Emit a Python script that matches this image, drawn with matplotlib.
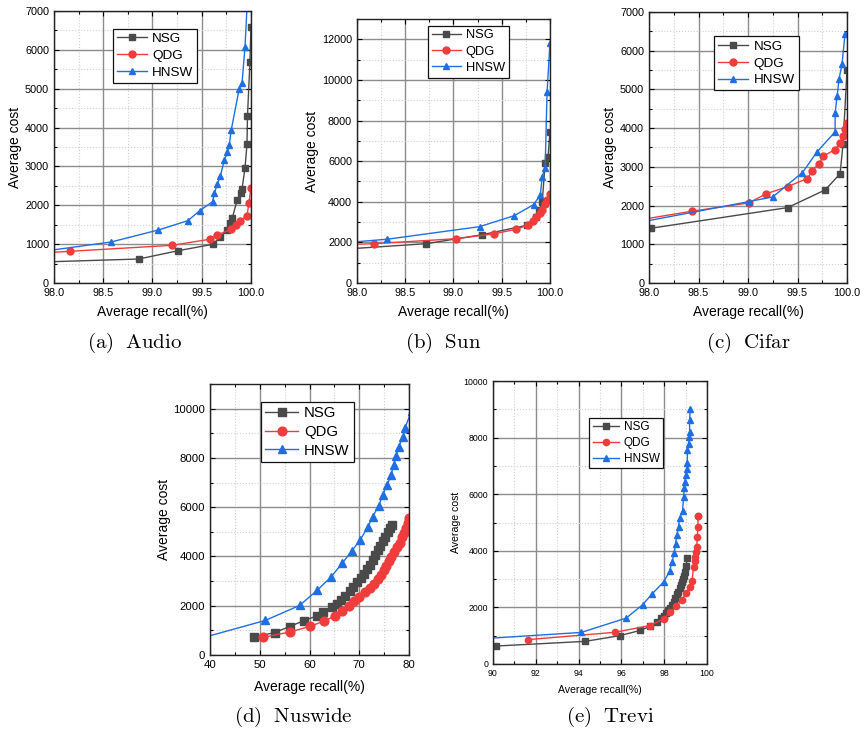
import matplotlib
matplotlib.use("Agg")
import matplotlib.pyplot as plt
from matplotlib.ticker import MultipleLocator, FormatStrFormatter

plt.rcParams['font.family'] = ['Liberation Sans', 'DejaVu Sans']
plt.rcParams['mathtext.fontset'] = 'cm'

series_names = ["NSG", "QDG", "HNSW"]
colors = {"NSG": "#4a4a4a", "QDG": "#f03c3c", "HNSW": "#1f6fe3"}
markers = {"NSG": "s", "QDG": "o", "HNSW": "^"}

# ---- (a) Audio ----
audio_nsg_x = [97.5, 98.86, 99.26, 99.61, 99.69, 99.76, 99.79, 99.81, 99.86, 99.90, 99.91, 99.94, 99.96, 99.965, 99.99, 100.0]
audio_nsg_y = [510, 617, 830, 995, 1184, 1364, 1552, 1665, 2136, 2308, 2427, 2967, 3577, 4297, 5695, 6598]
audio_qdg_x = [97.5, 98.16, 99.20, 99.58, 99.66, 99.80, 99.85, 99.89, 99.96, 99.98, 100.0]
audio_qdg_y = [715, 815, 970, 1124, 1243, 1381, 1484, 1604, 1733, 2059, 2440]
audio_hnsw_x = [97.5, 98.58, 99.06, 99.36, 99.48, 99.61, 99.63, 99.66, 99.69, 99.73, 99.76, 99.78, 99.80, 99.88, 99.91, 99.94, 99.97]
audio_hnsw_y = [680, 1055, 1364, 1604, 1861, 2092, 2324, 2548, 2761, 3165, 3363, 3551, 3937, 4985, 5157, 6081, 7600]

# ---- (b) Sun ----
sun_nsg_x = [97.5, 98.72, 99.30, 99.76, 99.86, 99.89, 99.92, 99.95, 99.98, 100.0]
sun_nsg_y = [1550, 1936, 2380, 2840, 3250, 3600, 4000, 5900, 6200, 7450]
sun_qdg_x = [97.5, 98.18, 99.03, 99.42, 99.65, 99.77, 99.82, 99.86, 99.90, 99.92, 99.95, 99.97, 100.0]
sun_qdg_y = [1820, 1936, 2182, 2420, 2645, 2842, 3069, 3240, 3460, 3600, 3890, 4090, 4400]
sun_hnsw_x = [97.5, 98.31, 99.27, 99.63, 99.83, 99.90, 99.92, 99.95, 99.97, 100.0]
sun_hnsw_y = [1840, 2153, 2773, 3315, 3857, 4335, 5236, 5680, 9394, 11837]

# ---- (c) Cifar ----
cifar_nsg_x = [98.02, 99.40, 99.78, 99.93, 99.96, 100.0]
cifar_nsg_y = [1414, 1947, 2405, 2820, 3594, 5508]
cifar_qdg_x = [97.5, 98.43, 99.01, 99.18, 99.40, 99.60, 99.65, 99.72, 99.76, 99.88, 99.93, 99.96, 99.98, 100.0]
cifar_qdg_y = [1460, 1853, 2069, 2301, 2491, 2698, 2905, 3086, 3276, 3448, 3620, 3793, 3965, 4120]
cifar_hnsw_x = [97.5, 99.01, 99.25, 99.55, 99.70, 99.88, 99.88, 99.90, 99.92, 99.95, 99.98]
cifar_hnsw_y = [1370, 2103, 2224, 2853, 3396, 3905, 4388, 4828, 5275, 5663, 6431]

# ---- (d) Nuswide ----
nus_nsg_x = [48.9, 53.0, 56.0, 58.8, 61.5, 62.8, 64.5, 65.5, 66.3, 67.2, 68.2, 68.8, 69.6, 70.3, 71.0, 71.6, 72.2, 72.7, 73.2, 73.7, 74.2, 74.7, 75.2, 75.7, 76.1, 76.6]
nus_nsg_y = [730, 912, 1155, 1390, 1590, 1760, 1946, 2080, 2243, 2405, 2595, 2757, 2972, 3135, 3297, 3487, 3662, 3852, 4039, 4242, 4432, 4635, 4809, 5012, 5174, 5280]
nus_qdg_x = [50.7, 56.0, 60.1, 62.9, 65.2, 66.5, 68.0, 69.0, 70.0, 71.2, 72.2, 73.0, 73.7, 74.3, 74.9, 75.4, 75.9, 76.4, 77.0, 77.6, 78.1, 78.6, 79.0, 79.4, 79.7, 79.9]
nus_qdg_y = [714, 933, 1160, 1379, 1594, 1796, 1971, 2174, 2352, 2538, 2717, 2891, 3082, 3256, 3431, 3621, 3796, 3998, 4177, 4380, 4566, 4785, 4971, 5174, 5377, 5556]
nus_hnsw_x = [38.0, 51.1, 58.0, 61.5, 64.3, 66.6, 68.5, 70.2, 71.7, 72.7, 73.9, 74.7, 75.6, 76.4, 76.9, 77.4, 77.9, 78.8, 79.2, 80.5]
nus_hnsw_y = [670, 1403, 2011, 2620, 3163, 3731, 4229, 4675, 5190, 5620, 6054, 6500, 6906, 7311, 7717, 8082, 8459, 8840, 9230, 9900]

# ---- (e) Trevi ----
trevi_nsg_x = [89.0, 90.15, 94.31, 95.92, 96.88, 97.35, 97.65, 97.85, 97.97, 98.1, 98.2, 98.29, 98.37, 98.44, 98.52, 98.6, 98.65, 98.72, 98.78, 98.83, 98.9, 98.95, 98.99, 99.03, 99.07]
trevi_nsg_y = [590, 635, 800, 1000, 1186, 1330, 1500, 1620, 1700, 1800, 1900, 1990, 2090, 2190, 2330, 2470, 2560, 2680, 2780, 2880, 3000, 3120, 3250, 3450, 3760]
trevi_qdg_x = [91.62, 95.69, 97.35, 98.0, 98.25, 98.57, 98.83, 99.03, 99.19, 99.30, 99.38, 99.42, 99.45, 99.48, 99.52, 99.55, 99.58, 99.58, 99.6]
trevi_qdg_y = [860, 1120, 1360, 1600, 1822, 2033, 2270, 2506, 2718, 2940, 3445, 3622, 3798, 3953, 4151, 4504, 4857, 5245, 5245]
trevi_hnsw_x = [88.0, 94.13, 96.23, 96.99, 97.44, 97.97, 98.25, 98.36, 98.47, 98.53, 98.6, 98.67, 98.72, 98.86, 98.91, 98.94, 98.97, 99.02, 99.05, 99.08, 99.09, 99.14, 99.16, 99.19, 99.19, 99.22]
trevi_hnsw_y = [820, 1116, 1624, 2093, 2481, 2894, 3270, 3588, 3918, 4246, 4564, 4857, 5153, 5422, 5916, 6212, 6446, 6682, 6894, 7116, 7564, 7776, 8013, 8210, 8623, 9001]

captions = ["(a)\\ \\ Audio", "(b)\\ \\ Sun", "(c)\\ \\ Cifar", "(d)\\ \\ Nuswide", "(e)\\ \\ Trevi"]

panels = [
    dict(data={"NSG": (audio_nsg_x, audio_nsg_y), "QDG": (audio_qdg_x, audio_qdg_y), "HNSW": (audio_hnsw_x, audio_hnsw_y)},
         rect=[0.0624, 0.6134, 0.2277, 0.3716], xlim=(98, 100), ylim=(0, 7000), xmaj=0.5, xmin=0.25, ymaj=1000, ymin=500,
         xfmt="%.1f", leg=(0.30, 0.935), tick=7.8, lab=10, legfs=9.7, ms=5, cap=(135, 343), xpad=5),
    dict(data={"NSG": (sun_nsg_x, sun_nsg_y), "QDG": (sun_qdg_x, sun_qdg_y), "HNSW": (sun_hnsw_x, sun_hnsw_y)},
         rect=[0.4127, 0.6134, 0.2231, 0.3607], xlim=(98, 100), ylim=(0, 13000), xmaj=0.5, xmin=0.25, ymaj=2000, ymin=1000,
         xfmt="%.1f", leg=(0.37, 0.975), tick=7.8, lab=10, legfs=9.3, ms=5, cap=(443, 343), xpad=5),
    dict(data={"NSG": (cifar_nsg_x, cifar_nsg_y), "QDG": (cifar_qdg_x, cifar_qdg_y), "HNSW": (cifar_hnsw_x, cifar_hnsw_y)},
         rect=[0.7503, 0.6134, 0.2289, 0.3702], xlim=(98, 100), ylim=(0, 7000), xmaj=0.5, xmin=0.25, ymaj=1000, ymin=500,
         xfmt="%.1f", leg=(0.33, 0.91), tick=7.8, lab=10, legfs=9.7, ms=5, cap=(748, 343), xpad=5),
    dict(data={"NSG": (nus_nsg_x, nus_nsg_y), "QDG": (nus_qdg_x, nus_qdg_y), "HNSW": (nus_hnsw_x, nus_hnsw_y)},
         rect=[0.2428, 0.1052, 0.2301, 0.3702], xlim=(40, 80), ylim=(0, 11000), xmaj=10, xmin=5, ymaj=2000, ymin=1000,
         xfmt="%d", leg=(0.255, 0.935), tick=8.2, lab=10, legfs=10.7, ms=6.3, cap=(293, 717), xpad=7),
    dict(data={"NSG": (trevi_nsg_x, trevi_nsg_y), "QDG": (trevi_qdg_x, trevi_qdg_y), "HNSW": (trevi_hnsw_x, trevi_hnsw_y)},
         rect=[0.5699, 0.0929, 0.2474, 0.3866], xlim=(90, 100), ylim=(0, 10000), xmaj=2, xmin=1, ymaj=2000, ymin=1000,
         xfmt="%d", leg=(0.45, 0.87), tick=6.3, lab=7.6, legfs=8.5, ms=4.5, cap=(610, 717), xpad=5),
]

W, H = 865, 732
fig = plt.figure(figsize=(W / 100, H / 100), dpi=100)

for p, cap in zip(panels, captions):
    ax = fig.add_axes(p["rect"])
    for name in series_names:
        xs, ys = p["data"][name]
        ax.plot(xs, ys, color=colors[name], marker=markers[name], markersize=p["ms"],
                linewidth=1.0, label=name, clip_on=True)
    ax.set_xlim(*p["xlim"])
    ax.set_ylim(*p["ylim"])
    ax.xaxis.set_major_locator(MultipleLocator(p["xmaj"]))
    ax.xaxis.set_minor_locator(MultipleLocator(p["xmin"]))
    ax.yaxis.set_major_locator(MultipleLocator(p["ymaj"]))
    ax.yaxis.set_minor_locator(MultipleLocator(p["ymin"]))
    ax.xaxis.set_major_formatter(FormatStrFormatter(p["xfmt"]))
    ax.grid(which="major", color="#8c8c8c", linewidth=1.0, linestyle="-")
    ax.grid(which="minor", color="#d0d0d0", linewidth=0.8, linestyle=":")
    ax.set_axisbelow(True)
    ax.tick_params(which="both", direction="in", top=True, right=True, labelsize=p["tick"], width=0.8)
    ax.tick_params(which="major", length=3.5)
    ax.tick_params(which="minor", length=2)
    for s in ax.spines.values():
        s.set_linewidth(1.0)
        s.set_color("#222222")
    ax.set_xlabel("Average recall(%)", fontsize=p["lab"], labelpad=p["xpad"])
    ax.set_ylabel("Average cost", fontsize=p["lab"], labelpad=2)
    if p["ylim"][1] in (11000, 13000):
        ax.set_yticks(list(range(0, p["ylim"][1], p["ymaj"])))
    leg = ax.legend(loc="upper left", bbox_to_anchor=p["leg"], fontsize=p["legfs"], frameon=True,
                    fancybox=False, edgecolor="#111111", framealpha=1.0, borderpad=0.3,
                    handlelength=2.2, handletextpad=0.4, labelspacing=0.32, borderaxespad=0)
    leg.get_frame().set_linewidth(0.9)
    fig.text(p["cap"][0] / W, 1 - p["cap"][1] / H, "$\\mathrm{" + cap + "}$",
             fontsize=15, ha="center", va="center")

fig.savefig("out.png", dpi=100)
